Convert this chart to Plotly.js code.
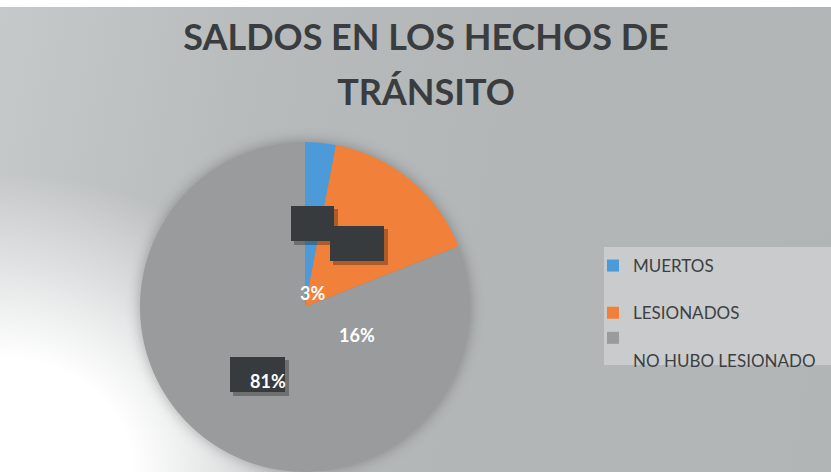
<!DOCTYPE html>
<html>
<head>
<meta charset="utf-8">
<script src="https://cdn.plot.ly/plotly-3.0.1.min.js"></script>
<style>
  html, body { margin: 0; padding: 0; }
  body {
    width: 831px; height: 472px; overflow: hidden;
    background:
      linear-gradient(#ffffff, #ffffff) top left / 100% 7px no-repeat,
      radial-gradient(ellipse 350px 300px at 0px 472px, #ffffff 0%, #ffffff 38%, rgba(255,255,255,0) 100%),
      linear-gradient(100deg, #c6c9ca 0%, #b8bbbc 30%, #b3b6b7 60%, #b2b5b6 100%);
  }
  #chart { width: 831px; height: 472px; }
  .pielayer { filter: drop-shadow(0px 0px 7px rgba(0,0,0,0.28)); }
</style>
</head>
<body>
<div id="chart"></div>
<script>
// ---- data ----
const categories = ['MUERTOS', 'LESIONADOS', 'NO HUBO LESIONADO'];
const values = [3, 16, 81];
const sliceColors = ['#4d9ad8', '#f0803a', '#999b9c'];
const titleLines = ['SALDOS EN LOS HECHOS DE', 'TRÁNSITO'];

// ---- layout helpers ----
const W = 831, H = 472;
const px = x => x / W;
const py = y => 1 - y / H;

// legend labels laid out like the original (wrapped third entry)
const legendLabels = [categories[0] + '<br>\u00a0', categories[1], '\u00a0<br>' + categories[2]];

// percent label positions (pixels) and decorative dark boxes
const labelPos = [[312, 293], [357, 335], [268, 381]];
const darkBoxes = [[291, 206, 334, 241], [330, 226, 384, 261], [230, 357, 285, 392]];

const shapes = [];
shapes.push({type: 'rect', xref: 'paper', yref: 'paper', layer: 'below',
  x0: px(604), x1: px(831), y0: py(365), y1: py(247),
  fillcolor: '#c9cbcc', line: {width: 0}});
darkBoxes.forEach(b => {
  shapes.push({type: 'rect', xref: 'paper', yref: 'paper', layer: 'above',
    x0: px(b[0] + 3), x1: px(b[2] + 4), y0: py(b[3] + 4), y1: py(b[1] + 3),
    fillcolor: 'rgba(0,0,0,0.28)', line: {width: 0}});
  shapes.push({type: 'rect', xref: 'paper', yref: 'paper', layer: 'above',
    x0: px(b[0]), x1: px(b[2]), y0: py(b[3]), y1: py(b[1]),
    fillcolor: '#383b3e', line: {width: 0}});
});

const annotations = values.map((v, i) => ({
  text: v + '%', xref: 'paper', yref: 'paper',
  x: px(labelPos[i][0]), y: py(labelPos[i][1]),
  xanchor: 'center', yanchor: 'middle', showarrow: false,
  font: {family: 'Lato', size: 18, color: '#ffffff', weight: 700}
}));

const trace = {
  type: 'pie',
  labels: legendLabels,
  values: values,
  marker: {colors: sliceColors, line: {width: 0}},
  sort: false,
  direction: 'clockwise',
  rotation: 0,
  textinfo: 'none',
  hoverinfo: 'percent',
  domain: {x: [px(140), px(470)], y: [py(472), py(142)]}
};

const titleText = titleLines.map(t => '<span style="font-size:36px">' + t + '</span>').join('<br>');

const layout = {
  width: W, height: H,
  margin: {l: 0, r: 0, t: 0, b: 0},
  paper_bgcolor: 'rgba(0,0,0,0)',
  plot_bgcolor: 'rgba(0,0,0,0)',
  title: {
    text: titleText,
    font: {family: 'Lato', size: 42.3, color: '#3a3d40', weight: 700},
    x: px(426), xanchor: 'center',
    y: py(50), yref: 'container', yanchor: 'top'
  },
  showlegend: true,
  legend: {
    x: px(593), xanchor: 'left',
    y: py(248), yanchor: 'top',
    bgcolor: 'rgba(0,0,0,0)',
    font: {family: 'Lato', size: 17, color: '#3d4043'},
    valign: 'top',
    traceorder: 'normal'
  },
  shapes: shapes,
  annotations: annotations
};

Plotly.newPlot('chart', [trace], layout, {displayModeBar: false, staticPlot: true});
</script>
</body>
</html>
